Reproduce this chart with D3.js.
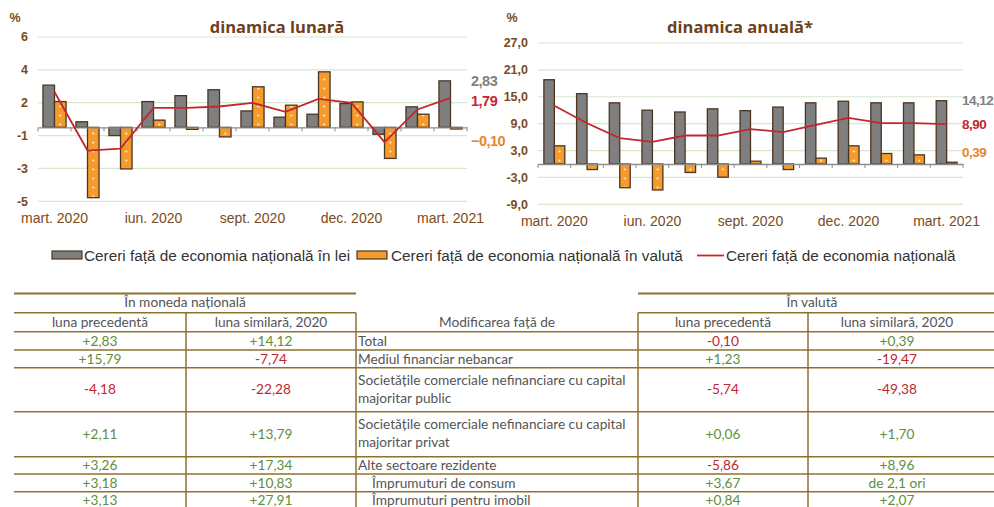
<!DOCTYPE html>
<html><head><meta charset="utf-8">
<script src="https://cdn.jsdelivr.net/npm/d3@7"></script>
<style>
body{margin:0;background:#fff;}
svg{display:block;}
</style></head>
<body>
<svg id="c" width="994" height="507"></svg>
<script>
// ---------- DATA ----------
const months = ["mart. 2020","apr. 2020","mai 2020","iun. 2020","iul. 2020","aug. 2020","sept. 2020","oct. 2020","nov. 2020","dec. 2020","ian. 2021","feb. 2021","mart. 2021"];
const xLabelMonths = ["mart. 2020","iun. 2020","sept. 2020","dec. 2020","mart. 2021"];

const monthlyLei    = [2.57, 0.34, -0.50, 1.57, 1.93, 2.29, 1.00, 0.62, 0.80, 1.45, -0.42, 1.25, 2.83];
const monthlyValuta = [1.57, -4.28, -2.53, 0.44, -0.12, -0.58, 2.47, 1.35, 3.38, 1.55, -1.89, 0.80, -0.10];
const monthlyTotal  = [2.15, -1.41, -1.29, 1.19, 1.19, 1.27, 1.49, 0.94, 1.73, 1.49, -0.90, 1.09, 1.79];
const monthlyTicks  = [-4.5, -2.5, -0.5, 1.5, 3.5, 5.5];
const monthlyTickLabels = ["-5", "-3", "-1", "2", "4", "6"];

const annualLei    = [18.8, 15.7, 13.65, 12.0, 11.6, 12.3, 11.9, 12.7, 13.65, 14.0, 13.65, 13.65, 14.12];
const annualValuta = [4.05, -1.24, -5.3, -5.8, -1.9, -2.95, 0.62, -1.24, 1.3, 4.05, 2.34, 2.03, 0.39];
const annualTotal  = [13.0, 9.1, 5.76, 4.94, 6.35, 6.35, 7.77, 7.1, 8.7, 10.3, 9.1, 9.1, 8.90];
const annualTicks  = [-9, -3, 3, 9, 15, 21, 27];
const annualTickLabels = ["-9,0", "-3,0", "3,0", "9,0", "15,0", "21,0", "27,0"];

const seriesNames = ["Cereri față de economia națională în lei", "Cereri față de economia națională în valută", "Cereri față de economia națională"];

const rowLabels = [["Total"], ["Mediul financiar nebancar"], ["Societățile comerciale nefinanciare cu capital", "majoritar public"], ["Societățile comerciale nefinanciare cu capital", "majoritar privat"], ["Alte sectoare rezidente"], ["Împrumuturi de consum"], ["Împrumuturi pentru imobil"]];
const rowIndent = [0, 0, 0, 0, 0, 1, 1];
const natPrev = ["+2,83", "+15,79", "-4,18", "+2,11", "+3,26", "+3,18", "+3,13"];
const natSim  = ["+14,12", "-7,74", "-22,28", "+13,79", "+17,34", "+10,83", "+27,91"];
const valPrev = ["-0,10", "+1,23", "-5,74", "+0,06", "-5,86", "+3,67", "+0,84"];
const valSim  = ["+0,39", "-19,47", "-49,38", "+1,70", "+8,96", "de 2,1 ori", "+2,07"];

// ---------- STYLE ----------
const C = {
  gray: "#7f7f7f", orange: "#f59a2c", red: "#c3262e", stroke: "#4b3522",
  grid: "#d9e6cf", axis: "#8c8c8c", brown: "#7b4a20", title: "#6e4119",
  tblLine: "#8e7030", tblText: "#555555", pos: "#5e8f3b", neg: "#c0272d"
};
const narrow = "'Liberation Sans Narrow','Liberation Sans',sans-serif";
const svg = d3.select("#c");
svg.append("rect").attr("width", 994).attr("height", 507).attr("fill", "#fff");
const defs = svg.append("defs");

function chart(cfg) {
  const x = d3.scaleBand().domain(months).range(cfg.xr).padding(0);
  const y = d3.scaleLinear().domain(cfg.yd).range(cfg.yr);
  const step = x.step(), bw = step * cfg.bwf;
  const g = svg.append("g");
  const pid = "dots" + cfg.id;
  const p = defs.append("pattern").attr("id", pid).attr("patternUnits", "userSpaceOnUse")
    .attr("x", cfg.xr[0] + step / 2).attr("y", 3).attr("width", step).attr("height", 9);
  p.append("rect").attr("width", step).attr("height", 9).attr("fill", C.orange);
  p.append("circle").attr("cx", bw / 2).attr("cy", 4.5).attr("r", 0.9).attr("fill", "#fff");

  g.selectAll(".gl").data(cfg.ticks).join("line")
    .attr("x1", cfg.xr[0]).attr("x2", cfg.xr[1])
    .attr("y1", d => y(d)).attr("y2", d => y(d))
    .attr("stroke", C.grid).attr("stroke-width", 1.2);
  g.selectAll(".tl").data(cfg.ticks).join("text")
    .attr("x", cfg.tlx).attr("y", d => y(d)).attr("dy", "0.35em")
    .attr("text-anchor", "end").attr("font-family", narrow).attr("font-weight", "bold")
    .attr("font-size", 12.5).attr("fill", C.brown)
    .text((d, i) => cfg.tickLabels[i]);
  g.selectAll(".bl").data(cfg.lei).join("rect")
    .attr("x", (d, i) => x(months[i]) + step / 2 - bw)
    .attr("y", d => y(Math.max(0, d))).attr("width", bw)
    .attr("height", d => Math.abs(y(d) - y(0)))
    .attr("fill", C.gray).attr("stroke", C.stroke).attr("stroke-width", 1.3);
  g.selectAll(".bv").data(cfg.val).join("rect")
    .attr("x", (d, i) => x(months[i]) + step / 2)
    .attr("y", d => y(Math.max(0, d))).attr("width", bw)
    .attr("height", d => Math.abs(y(d) - y(0)))
    .attr("fill", "url(#" + pid + ")").attr("stroke", C.stroke).attr("stroke-width", 1.3);
  const ax = g.append("g").attr("transform", `translate(0,${y(0)})`)
    .call(d3.axisBottom(x).tickValues([]).tickSizeOuter(0));
  ax.select(".domain").attr("stroke", C.axis).attr("stroke-width", 1.3);
  g.selectAll(".tk").data(d3.range(months.length + 1)).join("line")
    .attr("x1", i => cfg.xr[0] + i * step).attr("x2", i => cfg.xr[0] + i * step)
    .attr("y1", y(0)).attr("y2", y(0) + 4).attr("stroke", C.axis).attr("stroke-width", 1);
  const line = d3.line().x((d, i) => x(months[i]) + step / 2).y(d => y(d));
  g.append("path").datum(cfg.tot).attr("d", line).attr("fill", "none")
    .attr("stroke", C.red).attr("stroke-width", 1.8);
  g.selectAll(".xl").data(xLabelMonths).join("text")
    .attr("x", d => x(d) + step / 2).attr("y", cfg.xly).attr("text-anchor", "middle")
    .attr("font-family", narrow).attr("font-size", 14).attr("fill", C.brown).text(d => d);
  g.append("text").attr("x", cfg.tx).attr("y", 33).attr("text-anchor", "middle")
    .attr("font-family", "'Open Sans',sans-serif").attr("font-weight", "bold")
    .attr("font-size", 16.5).attr("fill", C.title).text(cfg.title);
  g.append("text").attr("x", cfg.px).attr("y", 22).attr("text-anchor", "middle")
    .attr("font-family", narrow).attr("font-weight", "bold")
    .attr("font-size", 12.5).attr("fill", C.brown).text("%");
  const n = months.length - 1;
  const fmt = v => d3.format(".2f")(v).replace(".", ",");
  const ends = [[cfg.lei[n], C.gray, 0], [cfg.tot[n], C.red, cfg.dyTot], [cfg.val[n], "#e8862a", cfg.dyVal]];
  g.selectAll(".el").data(ends).join("text")
    .attr("x", cfg.elx).attr("y", d => y(d[0]) + d[2]).attr("dy", "0.35em")
    .attr("font-family", narrow).attr("font-weight", "bold").attr("font-size", cfg.elfs)
    .attr("letter-spacing", -0.5)
    .attr("fill", d => d[1]).text(d => fmt(d[0]));
}

chart({ id: "m", xr: [38, 467], yd: [-4.5, 5.5], yr: [201.3, 37], bwf: 0.35,
  lei: monthlyLei, val: monthlyValuta, tot: monthlyTotal,
  ticks: monthlyTicks, tickLabels: monthlyTickLabels, tlx: 28, xly: 223,
  title: "dinamica lunară", tx: 277, px: 15, elx: 471, elfs: 14.5, dyTot: 3, dyVal: 12 });
chart({ id: "a", xr: [538, 963], yd: [-9, 27], yr: [204.3, 43], bwf: 0.32,
  lei: annualLei, val: annualValuta, tot: annualTotal,
  ticks: annualTicks, tickLabels: annualTickLabels, tlx: 528, xly: 226,
  title: "dinamica anuală*", tx: 740, px: 512, elx: 962, elfs: 13.5, dyTot: 0, dyVal: -10 });

// ---------- LEGEND ----------
const lg = svg.append("g").attr("font-family", narrow).attr("font-size", 15.3).attr("fill", "#333");
const lx = [52, 357, 697];
const ltx = [84, 391, 726];
lg.append("rect").attr("x", lx[0]).attr("y", 251).attr("width", 30).attr("height", 8)
  .attr("fill", C.gray).attr("stroke", C.stroke).attr("stroke-width", 1.2);
lg.append("rect").attr("x", lx[1]).attr("y", 251).attr("width", 30).attr("height", 8)
  .attr("fill", C.orange).attr("stroke", C.stroke).attr("stroke-width", 1.2);
lg.append("line").attr("x1", lx[2]).attr("x2", lx[2] + 27).attr("y1", 255.5).attr("y2", 255.5)
  .attr("stroke", C.red).attr("stroke-width", 1.8);
lg.selectAll(".lt").data(seriesNames).join("text")
  .attr("x", (d, i) => ltx[i]).attr("y", 260.5).text(d => d);

// ---------- TABLE ----------
const tb = svg.append("g").attr("font-family", "Lato,sans-serif").attr("font-size", 13.7);
const rowB = [331.7, 350, 367.7, 411.7, 456.7, 474, 491.7, 509.5];
const colX = { l0: 14, l1: 186, l2: 356, r0: 638, r1: 808, r2: 986, end: 994 };
const hl = (x1, x2, y, w) => tb.append("line").attr("x1", x1).attr("x2", x2).attr("y1", y).attr("y2", y)
  .attr("stroke", C.tblLine).attr("stroke-width", w || 1.5);
const vl = (x, y1, y2) => tb.append("line").attr("x1", x).attr("x2", x).attr("y1", y1).attr("y2", y2)
  .attr("stroke", C.tblLine).attr("stroke-width", 1.5);
hl(colX.l0, colX.l2, 293.5, 2); hl(colX.r0, colX.end, 293.5, 2);
hl(colX.l0, colX.l2, 312.7); hl(colX.r0, colX.end, 312.7);
rowB.forEach(y => hl(colX.l0, colX.end, y));
[colX.l1, colX.l2, colX.r0, colX.r1].forEach(x => vl(x, 312.7, 507));
const txt = (x, y, s, anchor, fill) => tb.append("text").attr("x", x).attr("y", y).attr("dy", "0.35em")
  .attr("text-anchor", anchor).attr("fill", fill || C.tblText).text(s);
txt((colX.l0 + colX.l2) / 2, 302.5, "În moneda națională", "middle");
txt((colX.r0 + colX.r2) / 2, 302.5, "În valută", "middle");
txt((colX.l0 + colX.l1) / 2, 322, "luna precedentă", "middle");
txt((colX.l1 + colX.l2) / 2, 322, "luna similară, 2020", "middle");
txt((colX.r0 + colX.r1) / 2, 322, "luna precedentă", "middle");
txt((colX.r1 + colX.r2) / 2, 322, "luna similară, 2020", "middle");
txt(497, 322, "Modificarea față de", "middle");
const col = s => s.startsWith("-") ? C.neg : C.pos;
rowLabels.forEach((lab, i) => {
  const y0 = rowB[i], y1 = rowB[i + 1], cy = (y0 + y1) / 2;
  if (lab.length === 1) txt(358 + rowIndent[i] * 14, cy, lab[0], "start");
  else { txt(358, cy - 9.5, lab[0], "start"); txt(358, cy + 8.5, lab[1], "start"); }
  txt((colX.l0 + colX.l1) / 2, cy, natPrev[i], "middle", col(natPrev[i]));
  txt((colX.l1 + colX.l2) / 2, cy, natSim[i], "middle", col(natSim[i]));
  txt((colX.r0 + colX.r1) / 2, cy, valPrev[i], "middle", col(valPrev[i]));
  txt((colX.r1 + colX.r2) / 2, cy, valSim[i], "middle", col(valSim[i]));
});
</script>
</body></html>
